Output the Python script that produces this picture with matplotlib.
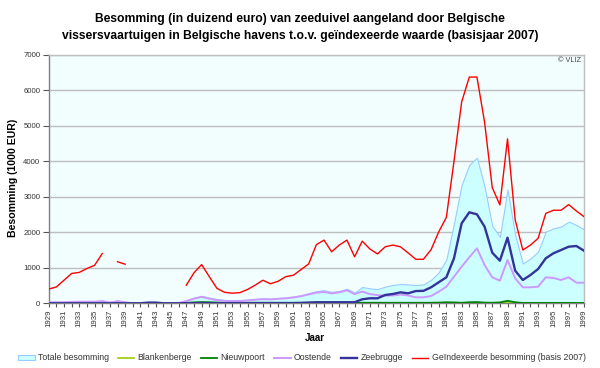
import numpy as np
import matplotlib
matplotlib.use("Agg")
import matplotlib.pyplot as plt
from matplotlib.patches import Patch
from matplotlib.lines import Line2D

plt.rcParams['font.family'] = ['Liberation Sans', 'DejaVu Sans']

nan = np.nan
years = list(range(1929, 2000))

geindexeerd = [400, 460, 650, 840, 870, 980, 1070, 1400, nan, 1170, 1100,
               nan, nan, nan, nan, nan, nan, nan,
               510, 860, 1090, 750, 420, 310, 285, 300, 390, 510, 650, 550, 620,
               750, 790, 950, 1110, 1650, 1780, 1450, 1640, 1780, 1310,
               1750, 1530, 1390, 1590, 1640, 1590, 1420, 1240, 1240, 1510,
               2010, 2420, 4000, 5670, 6370, 6370, 5100, 3260, 2770, 4630,
               2350, 1500, 1640, 1830, 2530, 2620, 2620, 2780, 2600, 2440]

oostende = [30, 30, 30, 40, 45, 45, 45, 60, 20, 60, 30,
            0, 0, 0, 0, 0, 0, 10,
            60, 130, 180, 130, 90, 70, 60, 65, 80, 100, 115, 110, 125,
            140, 165, 200, 250, 300, 320, 280, 310, 365, 260,
            330, 260, 230, 215, 220, 245, 220, 168, 168, 206,
            327, 468, 750, 1031, 1295, 1548, 1078, 732, 637, 1219,
            704, 450, 450, 468, 732, 713, 656, 732, 580, 580]

zeebrugge = [0, 0, 0, 0, 0, 0, 0, 0, 0, 0, 0,
             0, 0, 20, 20, 0, 0, 0,
             5, 5, 5, 5, 5, 5, 5, 5, 5, 5, 5, 5, 5,
             5, 5, 10, 20, 30, 30, 30, 30, 30, 30,
             113, 141, 141, 234, 262, 309, 281, 345, 350, 450,
             591, 732, 1267, 2252, 2562, 2505, 2157, 1425, 1200, 1848,
             918, 656, 797, 966, 1267, 1408, 1500, 1594, 1613, 1481]

nieuwpoort = [5, 5, 5, 5, 5, 5, 5, 5, 5, 10, 5,
              0, 0, 0, 0, 0, 0, 0,
              10, 25, 35, 30, 20, 15, 15, 15, 15, 15, 15, 15, 15,
              15, 15, 15, 15, 15, 15, 15, 15, 15, 15,
              15, 15, 15, 15, 15, 15, 15, 15, 15, 15,
              20, 30, 25, 15, 30, 35, 20, 15, 25, 70,
              30, 10, 10, 10, 10, 10, 10, 10, 10, 10]

blankenberge = [0] * 71

totaal = [40, 40, 40, 50, 55, 55, 55, 80, 40, 80, 40,
          0, 0, 20, 20, 0, 0, 10,
          80, 160, 210, 160, 120, 90, 80, 85, 100, 120, 140, 130, 150,
          165, 190, 225, 285, 340, 370, 320, 350, 410, 300,
          460, 420, 400, 470, 515, 545, 530, 515, 530, 660,
          870, 1230, 2250, 3330, 3900, 4100, 3280, 2180, 1870, 3200,
          1923, 1120, 1260, 1453, 2016, 2111, 2160, 2300, 2205, 2083]

title = ("Besomming (in duizend euro) van zeeduivel aangeland door Belgische\n"
         "vissersvaartuigen in Belgische havens t.o.v. geïndexeerde waarde (basisjaar 2007)")

fig = plt.figure(figsize=(6.0, 3.68), dpi=100)
fig.patch.set_facecolor("white")
ax = fig.add_axes([48.7 / 600, 1 - 303.3 / 368, (584 - 48.7) / 600, (303.3 - 54.7) / 368])
ax.set_facecolor("#F2FDFD")

ax.fill_between(years, totaal, 0, facecolor="#CCFFFF", edgecolor="#99CCFF", linewidth=0.8, zorder=2)
ax.plot(years, blankenberge, color="#99CC00", lw=1.2, zorder=3)
ax.plot(years, nieuwpoort, color="#008000", lw=1.3, zorder=3)
ax.plot(years, oostende, color="#CC99FF", lw=1.4, zorder=4)
ax.plot(years, zeebrugge, color="#333399", lw=1.7, zorder=5)
ax.plot(years, geindexeerd, color="#FF0000", lw=1.0, zorder=6)

ax.set_xlim(1929, 1999)
ax.set_ylim(0, 7000)
ax.set_yticks(range(0, 7001, 1000))
ax.yaxis.grid(True, color="#BEBEBE", lw=1.0, zorder=1)
ax.set_axisbelow(True)
ax.set_xticks(years, minor=True)
ax.set_xticks(list(range(1929, 2000, 2)))
ax.set_xticklabels([str(y) for y in range(1929, 2000, 2)], rotation=90, fontsize=5.6, color="#333333")
ax.tick_params(axis="x", which="both", length=3, width=0.8, color="#555555", pad=1.5)
ax.tick_params(axis="y", length=4, width=0.8, color="#555555", labelsize=5.6, labelcolor="#333333", pad=2)
for s in ["left", "bottom"]:
    ax.spines[s].set_color("#808080")
    ax.spines[s].set_linewidth(1.0)
for s in ["right", "top"]:
    ax.spines[s].set_color("#BEBEBE")
    ax.spines[s].set_linewidth(1.0)

ax.text(0.995, 0.99, "© VLIZ", transform=ax.transAxes, ha="right", va="top", fontsize=5.3, color="#444444")

fig.text(0.5, 1 - 27.5 / 368, title, ha="center", va="center", fontsize=8.7, fontweight="bold",
         linespacing=1.55)
fig.text(13 / 600, 1 - 178 / 368, "Besomming (1000 EUR)", rotation=90, ha="center", va="center",
         fontsize=7.6, fontweight="bold")
fig.text(315 / 600, 1 - 338 / 368, "Jaar", ha="center", va="center", fontsize=7, fontweight="bold")

handles = [
    Patch(facecolor="#CCFFFF", edgecolor="#99CCFF", lw=0.8),
    Line2D([], [], color="#99CC00", lw=1.2),
    Line2D([], [], color="#008000", lw=1.3),
    Line2D([], [], color="#CC99FF", lw=1.4),
    Line2D([], [], color="#333399", lw=1.7),
    Line2D([], [], color="#FF0000", lw=1.0),
]
labels = ["Totale besomming", "Blankenberge", "Nieuwpoort", "Oostende", "Zeebrugge",
          "Geïndexeerde besomming (basis 2007)"]
fig.legend(handles, labels, loc="center left", bbox_to_anchor=(18 / 600, 1 - 358 / 368), ncol=6,
           frameon=False, fontsize=6.3, handlelength=1.9, handleheight=0.55, handletextpad=0.38,
           columnspacing=1.0, borderaxespad=0, borderpad=0, labelcolor="#333333")

fig.savefig("out.png", dpi=100)
